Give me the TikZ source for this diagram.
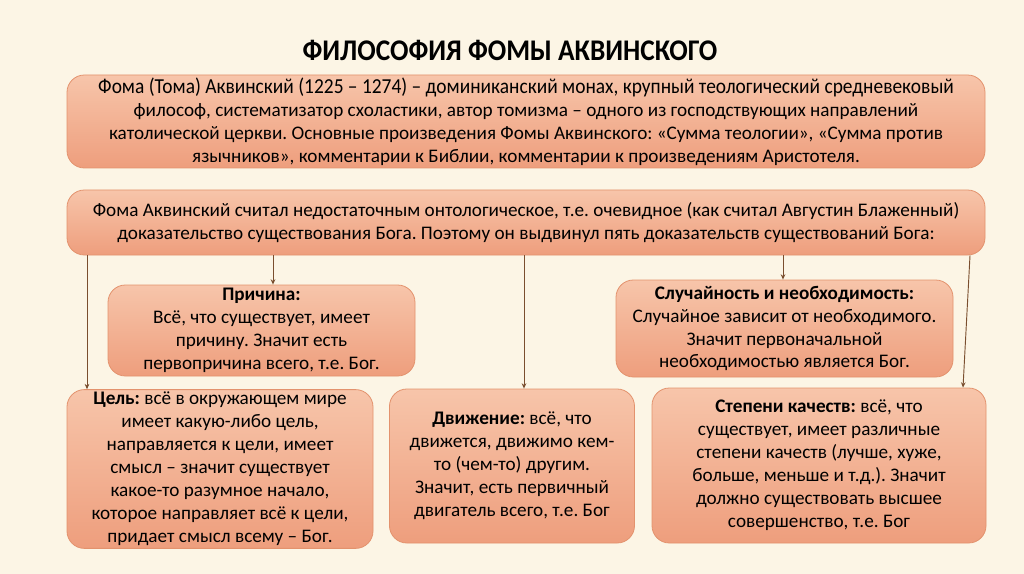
\documentclass[tikz,border=0pt]{standalone}
\usepackage{fontspec}
\setmainfont{Carlito}
\usetikzlibrary{arrows.meta}
\definecolor{paper}{HTML}{FCF5E5}
\definecolor{boxtop}{HTML}{F7C5AA}
\definecolor{boxbot}{HTML}{EE9E7D}
\definecolor{boxline}{HTML}{E3926D}
\definecolor{arrowc}{HTML}{7A4E2E}
\newfontfamily\narrowfont[FakeStretch=0.91]{Carlito}
\tikzset{
	box/.style 2 args={rectangle,rounded corners=13pt,draw=boxline,line width=0.6pt,
		top color=boxtop,bottom color=boxbot,align=center,inner sep=2pt,
		minimum width=#1*0.75pt,minimum height=#2*0.75pt,
		font=\fontsize{14.4}{17.2}\selectfont\frenchspacing},
	arr/.style={draw=arrowc,line width=0.7pt,-{Stealth[length=4pt,width=3.5pt]}}
}
\begin{document}
\begin{tikzpicture}[x=0.75pt,y=-0.75pt]
						\useasboundingbox[fill=paper] (0,0) rectangle (1024,574);
						\node (title) at (510,50) {\narrowfont\fontsize{22.5}{26}\selectfont\bfseries ФИЛОСОФИЯ ФОМЫ АКВИНСКОГО};
						\node [box={918}{93}] (intro) at (526,121.5) {\narrowfont\fontsize{16}{17.3}\selectfont Фома (Тома) Аквинский (1225 – 1274) – доминиканский монах, крупный теологический средневековый\\
							философ, систематизатор схоластики, автор томизма – одного из господствующих направлений\\
							католической церкви. Основные произведения Фомы Аквинского: «Сумма теологии», «Сумма против\\
							язычников», комментарии к Библии, комментарии к произведениям Аристотеля.};
						\node [box={918}{65}] (claim) at (526,222.5) {Фома Аквинский считал недостаточным онтологическое, т.е. очевидное (как считал Августин Блаженный)\\
							доказательство существования Бога. Поэтому он выдвинул пять доказательств существований Бога:};
						\node [box={307}{91}] (cause) at (261.5,330.5) {\textbf{Причина:}\\ Всё, что существует, имеет\\ причину. Значит есть\\ первопричина всего, т.е. Бог.};
						\node [box={337}{97}] (chance) at (784.5,328.5) {\textbf{Случайность и необходимость:}\\ Случайное зависит от необходимого.\\ Значит первоначальной\\ необходимостью является Бог.};
						\node [box={306}{158}] (goal) at (220,469) {\textbf{Цель:} всё в окружающем мире\\ имеет какую-либо цель,\\ направляется к цели, имеет\\ смысл – значит существует\\ какое-то разумное начало,\\ которое направляет всё к цели,\\ придает смысл всему – Бог.};
						\node [box={245}{154}] (motion) at (512,466) {\textbf{Движение:} всё, что\\ движется, движимо кем-\\ то (чем-то) другим.\\ Значит, есть первичный\\ двигатель всего, т.е. Бог};
						\node [box={334}{155}] (degree) at (819,465.5) {\textbf{Степени качеств:} всё, что\\ существует, имеет различные\\ степени качеств (лучше, хуже,\\ больше, меньше и т.д.). Значит\\ должно существовать высшее\\ совершенство, т.е. Бог};

						\draw [arr] (claim.south -| 87,0) -- (87,0 |- goal.north);
						\draw [arr] (claim.south -| 273,0) -- (273,0 |- cause.north);
						\draw [arr] (claim.south -| 524,0) -- (524,0 |- motion.north);
						\draw [arr] (claim.south -| 783,0) -- (783,0 |- chance.north);
						\draw [arr] (claim.south -| 970,0) -- (963,0 |- degree.north);
					\end{tikzpicture}
\end{document}
